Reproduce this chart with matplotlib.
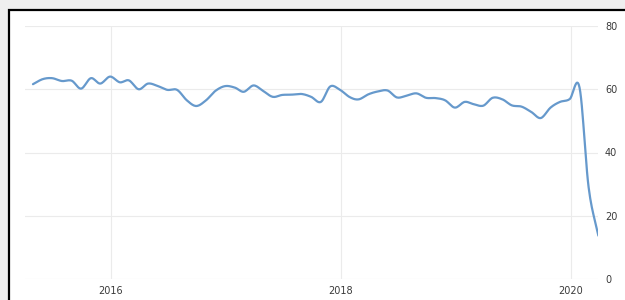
import numpy as np
import pandas as pd
import matplotlib
matplotlib.use("Agg")
import matplotlib.pyplot as plt
import matplotlib.dates as mdates
from matplotlib.patches import Rectangle

# Monthly values, May 2015 - Apr 2020
months = pd.date_range("2015-05-01", periods=60, freq="MS")
values = [61.6, 63.2, 63.5, 62.6, 62.7, 60.2, 63.5, 61.8, 64.0, 62.2,
          62.8, 60.0, 61.8, 61.0, 59.8, 59.8, 56.5, 54.7, 56.5, 59.5,
          61.0, 60.5, 59.2, 61.2, 59.5, 57.6, 58.2, 58.3, 58.5, 57.6,
          56.0, 60.9, 59.8, 57.5, 56.8, 58.4, 59.3, 59.6, 57.4, 58.0,
          58.7, 57.3, 57.2, 56.5, 54.2, 56.0, 55.3, 54.8, 57.3, 56.8,
          54.9, 54.5, 52.8, 50.9, 54.2, 56.0, 56.9, 60.6, 29.0, 13.7]
y_ticks = [0, 20, 40, 60, 80]
x_tick_years = [2016, 2018, 2020]


def catmull_rom(x, y, n=12):
    x = np.asarray(x, float)
    y = np.asarray(y, float)
    px = np.concatenate([[2 * x[0] - x[1]], x, [2 * x[-1] - x[-2]]])
    py = np.concatenate([[2 * y[0] - y[1]], y, [2 * y[-1] - y[-2]]])
    xs, ys = [], []
    t = np.linspace(0, 1, n, endpoint=False)
    for i in range(1, len(px) - 2):
        p0, p1, p2, p3 = py[i - 1], py[i], py[i + 1], py[i + 2]
        q0, q1, q2, q3 = px[i - 1], px[i], px[i + 1], px[i + 2]
        for arr, (a0, a1, a2, a3) in ((xs, (q0, q1, q2, q3)), (ys, (p0, p1, p2, p3))):
            arr.extend(0.5 * ((2 * a1) + (-a0 + a2) * t
                              + (2 * a0 - 5 * a1 + 4 * a2 - a3) * t ** 2
                              + (-a0 + 3 * a1 - 3 * a2 + a3) * t ** 3))
    xs.append(x[-1])
    ys.append(y[-1])
    return np.array(xs), np.array(ys)


W, H = 625, 300
fig = plt.figure(figsize=(W / 100, H / 100), dpi=100)
fig.patch.set_facecolor("#efefef")
frame = Rectangle((9 / W, -0.2), 1.2, 1.2 - 10 / H,
                  transform=fig.transFigure, facecolor="white",
                  edgecolor="black", linewidth=1.6, zorder=-10)
fig.patches.append(frame)

left, right, top, bottom = 25, 598, 26, 279
ax = fig.add_axes([left / W, 1 - bottom / H, (right - left) / W, (bottom - top) / H])
ax.set_zorder(5)
ax.set_facecolor("none")

xnum = mdates.date2num(months) - 3
sx, sy = catmull_rom(xnum, values)
ax.plot(sx, sy, color="#6699cc", linewidth=1.6, solid_capstyle="round")

# x limits from pixel positions of year gridlines
d2016 = mdates.date2num(pd.Timestamp("2016-01-01"))
d2018 = mdates.date2num(pd.Timestamp("2018-01-01"))
ppd = (341 - 111) / (d2018 - d2016)
ax.set_xlim(d2016 - (111 - left) / ppd, d2016 + (right - 111) / ppd)
ax.set_ylim(0, 80)

ax.set_xticks([mdates.date2num(pd.Timestamp(f"{y}-01-01")) for y in x_tick_years])
ax.set_xticklabels([str(y) for y in x_tick_years])
ax.set_yticks(y_ticks)
ax.set_yticklabels([str(v) for v in y_ticks])
ax.yaxis.tick_right()
ax.tick_params(axis="both", length=0, labelsize=7, labelcolor="#3a3a3a")
ax.tick_params(axis="y", pad=5)
ax.tick_params(axis="x", pad=5)
ax.grid(True, color="#ebebeb", linewidth=0.8)
ax.set_axisbelow(True)
for s in ax.spines.values():
    s.set_visible(False)

fig.savefig("out.png", dpi=100, facecolor=fig.get_facecolor())
